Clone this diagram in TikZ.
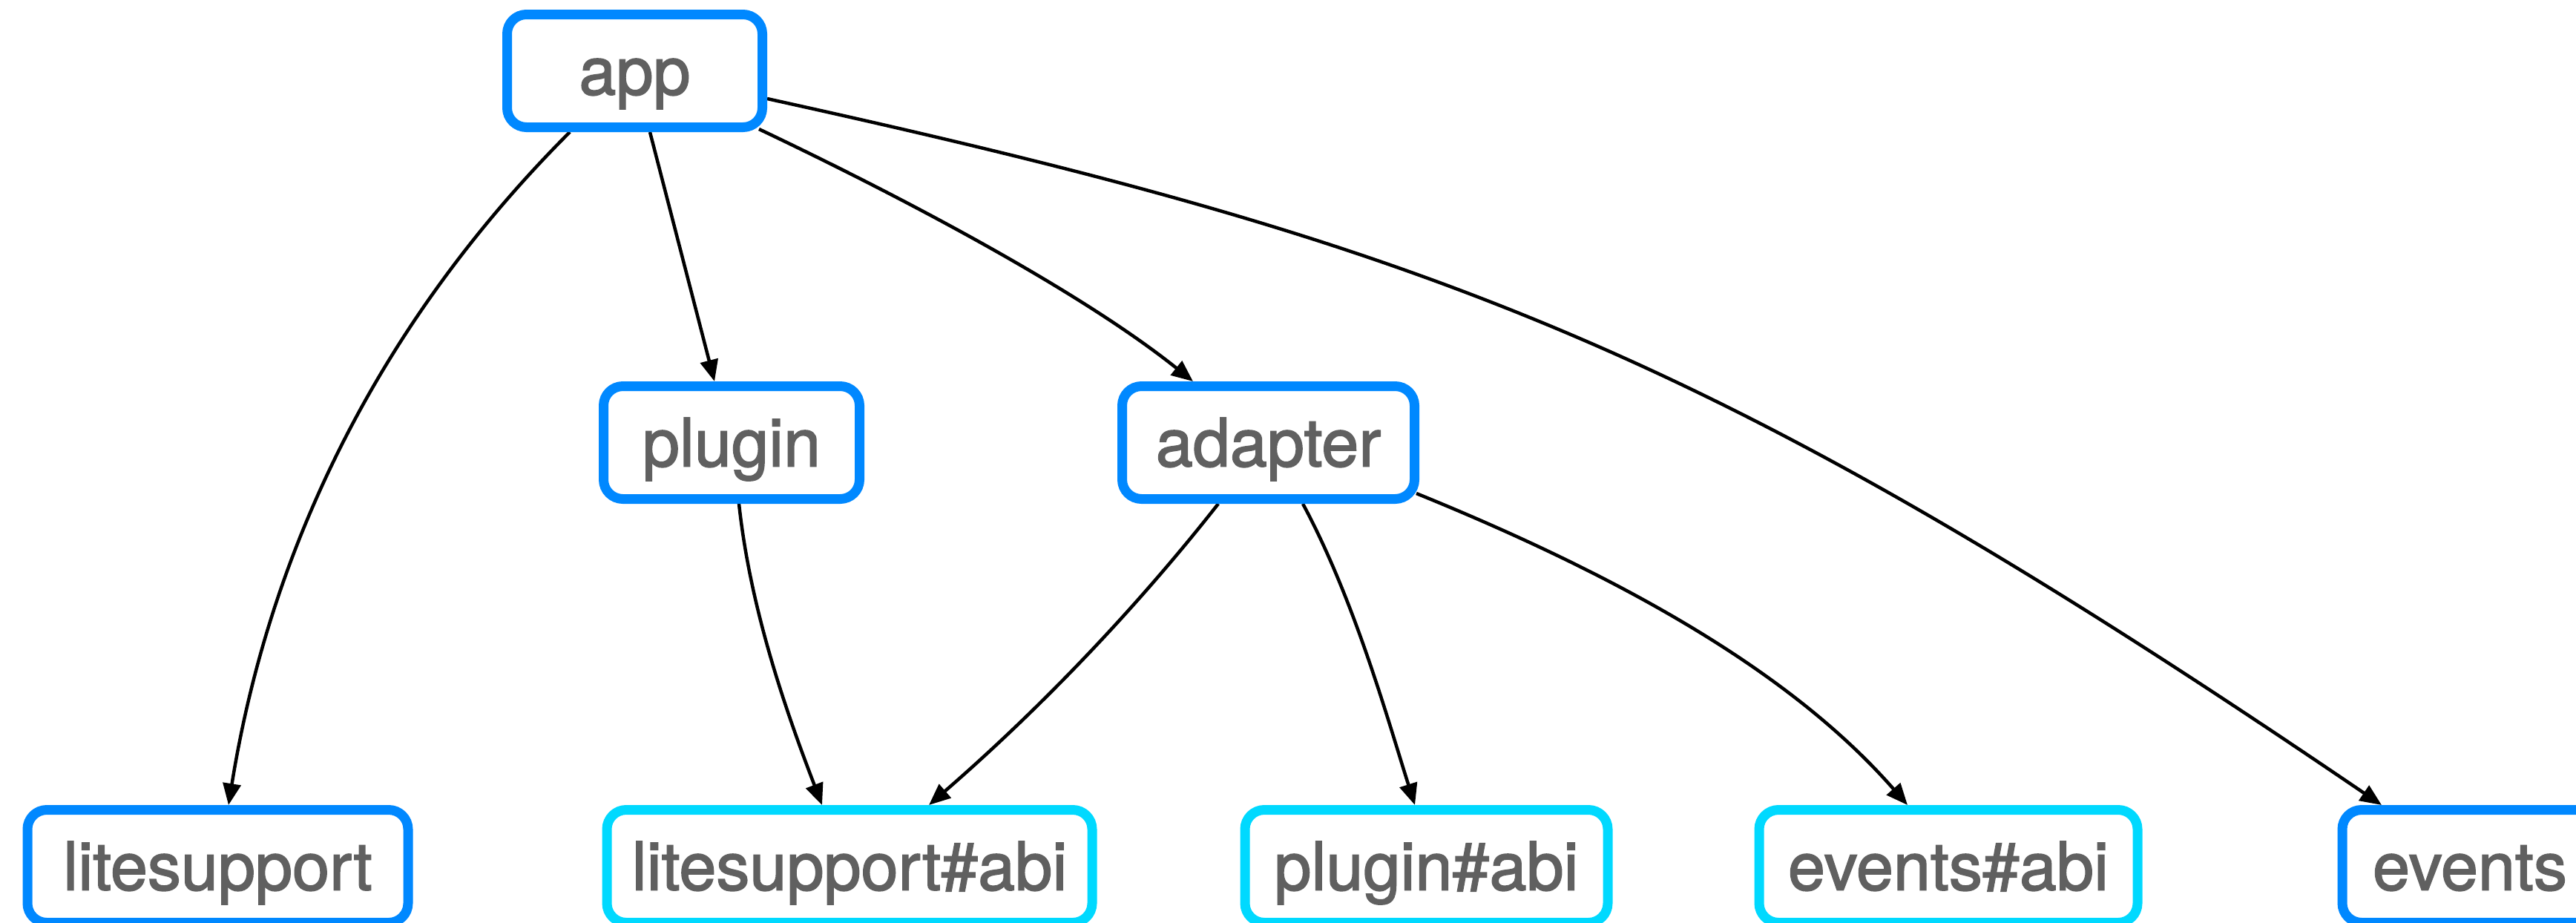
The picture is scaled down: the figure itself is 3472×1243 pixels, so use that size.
\documentclass[tikz,border=0pt]{standalone}
\usepackage{fontspec}
\setmainfont{TeX Gyre Heros}
\newfontfamily\boxfont[FakeBold=1.8]{TeX Gyre Heros}
\usetikzlibrary{arrows.meta}
\pgfdeclarelayer{background}
\pgfsetlayers{background,main}
\definecolor{nblue}{RGB}{0,136,255}
\definecolor{ncyan}{RGB}{0,217,255}
\definecolor{tgray}{RGB}{96,96,96}
\tikzset{
  box/.style={draw=nblue, fill=white, line width=13pt, rounded corners=26pt,
    minimum height=152pt, inner sep=0pt, text=tgray,
    font=\boxfont\fontsize{90}{100}\selectfont, text height=82pt, text depth=18pt},
  abibox/.style={box, draw=ncyan},
  dep/.style={draw=black, line width=4.5pt, -{Triangle[length=29pt,width=24pt]}}
}
\begin{document}
\begin{tikzpicture}[x=1pt,y=-1pt]
\useasboundingbox (0,0) rectangle (3472,1243);
\node[box, minimum width=344pt] (app) at (855.5,95.5) {app};
\node[box, minimum width=345pt] (plugin) at (986,596.5) {plugin};
\node[box, minimum width=394pt] (adapter) at (1709.5,596.5) {adapter};
\node[box, minimum width=513pt] (lite) at (293.5,1167.5) {litesupport};
\node[abibox, minimum width=654pt] (liteabi) at (1145,1167.5) {litesupport\#abi};
\node[abibox, minimum width=489pt] (pluginabi) at (1922.5,1167.5) {plugin\#abi};
\node[abibox, minimum width=510pt] (eventsabi) at (2626,1167.5) {events\#abi};
\node[box, minimum width=344pt] (events) at (3329,1167.5) {events};
\begin{pgfonlayer}{background}
\draw[dep] ([xshift=-87.5pt]app.south) .. controls +(-300,300) and +(45,-280) .. ([xshift=14.5pt]lite.north);
\draw[dep] ([xshift=20.5pt]app.south) -- ([xshift=-23pt]plugin.north);
\draw[dep] ([xshift=167.5pt,yshift=4pt]app.south) .. controls +(200,95) and +(-150,-120) .. ([xshift=-101.5pt]adapter.north);
\draw[dep] ([yshift=-37.5pt]app.east) .. controls +(900,198) and +(-900,-612) .. ([xshift=-119pt]events.north);
\draw[dep] ([xshift=10pt]plugin.south) .. controls +(15,140) and +(-50,-130) .. ([xshift=-37pt]liteabi.north);
\draw[dep] ([xshift=-67.5pt]adapter.south) .. controls +(-110,140) and +(150,-130) .. ([xshift=107pt]liteabi.north);
\draw[dep] ([xshift=46.5pt]adapter.south) .. controls +(70,130) and +(-35,-110) .. ([xshift=-15.5pt]pluginabi.north);
\draw[dep] ([xshift=-4pt,yshift=-68.5pt]adapter.east) .. controls +(320,130) and +(-140,-160) .. ([xshift=-55pt]eventsabi.north);
\end{pgfonlayer}
\end{tikzpicture}
\end{document}
